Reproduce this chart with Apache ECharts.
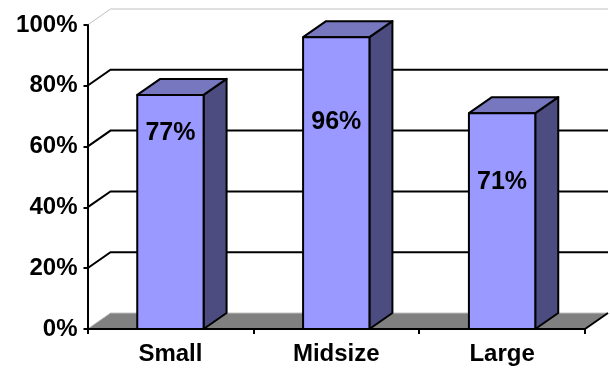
<!DOCTYPE html>
<html>
<head>
<meta charset="utf-8">
<script src="https://cdn.jsdelivr.net/npm/echarts@6/dist/echarts.min.js"></script>
<style>
  html, body { margin: 0; padding: 0; background: #fff; }
  #chart { width: 610px; height: 374px; }
</style>
</head>
<body>
<div id="chart"></div>
<script>
// Share of companies by size
const categories = ['Small', 'Midsize', 'Large'];
const shares = [77, 96, 71];
const yTicks = [0, 20, 40, 60, 80, 100];

// 3D look: depth offset of the back wall, bar width within a band
const DEPTH_X = 23;
const DEPTH_Y = -16;
const BAR_FRACTION = 0.4;
// vertical drop (px) of each value label below its bar top
const LABEL_DROP = [38, 85, 69];
const FONT = '"Liberation Sans", Arial, sans-serif';

function plotEdges(api) {
  const band = api.size([1, 0])[0];
  const left = api.coord([0, 0])[0] - band / 2;
  const right = api.coord([categories.length - 1, 0])[0] + band / 2;
  return { left, right, band };
}

// Gridlines on the back wall, joined to the front axis by diagonals
function renderGrid(params, api) {
  const v = api.value(1);
  const y = api.coord([0, v])[1];
  const e = plotEdges(api);
  const top = v === yTicks[yTicks.length - 1];
  return {
    type: 'polyline',
    shape: { points: [[e.left, y], [e.left + DEPTH_X, y + DEPTH_Y], [e.right + DEPTH_X, y + DEPTH_Y]] },
    style: { stroke: top ? '#c0c0c0' : '#000', lineWidth: top ? 1 : 2, fill: null }
  };
}

// Grey floor
function renderFloor(params, api) {
  const e = plotEdges(api);
  const y = api.coord([0, 0])[1];
  return {
    type: 'group',
    children: [
      {
        type: 'polygon',
        shape: { points: [[e.left, y], [e.right, y], [e.right + DEPTH_X, y + DEPTH_Y], [e.left + DEPTH_X, y + DEPTH_Y]] },
        style: { fill: '#808080', stroke: null }
      },
      {
        type: 'polyline',
        shape: { points: [[e.left, y], [e.left + DEPTH_X, y + DEPTH_Y], [e.right + DEPTH_X, y + DEPTH_Y]] },
        style: { stroke: '#c0c0c0', lineWidth: 1, fill: null }
      },
      {
        type: 'line',
        shape: { x1: e.right, y1: y, x2: e.right + DEPTH_X, y2: y + DEPTH_Y },
        style: { stroke: '#000', lineWidth: 2 }
      }
    ]
  };
}

// Box-shaped columns: front face, top and right side
function renderBar(params, api) {
  const i = api.value(0);
  const v = api.value(1);
  const top = api.coord([i, v]);
  const base = api.coord([i, 0]);
  const w = api.size([1, 0])[0] * BAR_FRACTION;
  const xl = top[0] - w / 2, xr = top[0] + w / 2;
  const yt = top[1], yb = base[1];
  const edge = { stroke: '#000', lineWidth: 2, lineJoin: 'round' };
  return {
    type: 'group',
    children: [
      {
        type: 'polygon',
        shape: { points: [[xr, yt], [xr + DEPTH_X, yt + DEPTH_Y], [xr + DEPTH_X, yb + DEPTH_Y], [xr, yb]] },
        style: Object.assign({ fill: '#4c4c80' }, edge)
      },
      {
        type: 'polygon',
        shape: { points: [[xl, yt], [xr, yt], [xr + DEPTH_X, yt + DEPTH_Y], [xl + DEPTH_X, yt + DEPTH_Y]] },
        style: Object.assign({ fill: '#7777bf' }, edge)
      },
      {
        type: 'rect',
        shape: { x: xl, y: yt, width: w, height: yb - yt },
        style: Object.assign({ fill: '#9999ff' }, edge)
      },
      {
        type: 'text',
        x: top[0],
        y: yt + LABEL_DROP[i],
        style: {
          text: v + '%',
          fill: '#000',
          font: 'bold 25px ' + FONT,
          align: 'center',
          verticalAlign: 'middle'
        }
      }
    ]
  };
}

const chart = echarts.init(document.getElementById('chart'), null, { renderer: 'canvas' });
chart.setOption({
  animation: false,
  backgroundColor: '#fff',
  grid: { left: 87.5, right: 25, top: 25, bottom: 45 },
  xAxis: {
    type: 'category',
    data: categories,
    boundaryGap: true,
    axisLine: { lineStyle: { color: '#000', width: 2 } },
    axisTick: { show: true, length: 5, lineStyle: { color: '#000', width: 2 } },
    axisLabel: { color: '#000', fontFamily: FONT, fontWeight: 'bold', fontSize: 24, margin: 13 },
    splitLine: { show: false },
    z: 5
  },
  yAxis: {
    type: 'value',
    min: 0,
    max: 100,
    interval: 20,
    axisLine: { show: true, lineStyle: { color: '#000', width: 2 } },
    axisTick: { show: true, length: 4, lineStyle: { color: '#000', width: 2 } },
    axisLabel: { color: '#000', fontFamily: FONT, fontWeight: 'bold', fontSize: 24, margin: 10, formatter: '{value}%' },
    splitLine: { show: false },
    z: 5
  },
  series: [
    {
      type: 'custom',
      renderItem: renderGrid,
      data: yTicks.filter(v => v > 0).map(v => [0, v]),
      clip: false,
      silent: true,
      z: 1
    },
    {
      type: 'custom',
      renderItem: renderFloor,
      data: [[0, 0]],
      clip: false,
      silent: true,
      z: 2
    },
    {
      type: 'custom',
      renderItem: renderBar,
      data: shares.map((v, i) => [i, v]),
      clip: false,
      z: 3
    }
  ]
});
</script>
</body>
</html>
